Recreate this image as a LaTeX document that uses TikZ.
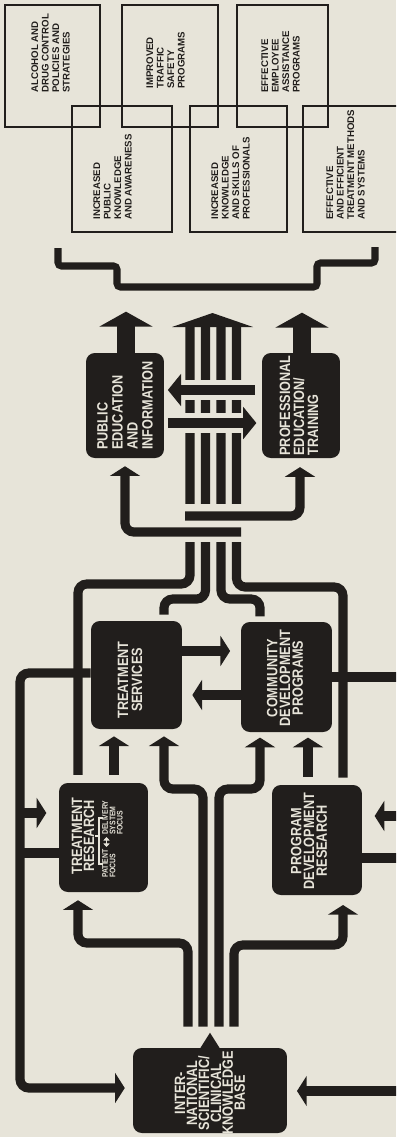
\documentclass[tikz,border=0pt]{standalone}
\usepackage{fontspec}
\setmainfont{Liberation Sans}
\newfontfamily\darkfont[FakeStretch=0.85]{Liberation Sans}
\usetikzlibrary{arrows.meta}
\definecolor{paper}{RGB}{231,228,217}
\definecolor{ink}{RGB}{33,30,28}

\begin{document}
\begin{tikzpicture}[x=0.02cm,y=-0.02cm,
  outbox/.style={draw=ink,line width=0.9pt,inner sep=0pt},
  otext/.style={rotate=90,anchor=north west,align=left,inner sep=0pt,text=ink,font=\bfseries\fontsize{5.5}{6}\selectfont},
  dark/.style={fill=ink,rounded corners=5pt,inner sep=0pt},
  dtext/.style={rotate=90,text=paper,align=center,inner sep=0pt,font=\darkfont\bfseries\fontsize{8.5}{#1}\selectfont},
  dtext/.default=7.2,
  dsmall/.style={rotate=90,anchor=north west,text=paper,align=left,inner sep=0pt,font=\darkfont\bfseries\fontsize{4.6}{4.2}\selectfont},
  fork/.style={draw=paper,line width=0.8pt},
  flow/.style={draw=ink,line width=5.2pt,rounded corners=5pt},
  flowtip/.style={-{Triangle[width=17pt,length=5.5pt]}},
  harr/.style={draw=ink,line width=5.5pt,-{Triangle[width=18pt,length=7.5pt]}},
  bigarr/.style={draw=ink,line width=10.5pt,-{Triangle[width=30pt,length=8.5pt]}}]
  \useasboundingbox (0,0) rectangle (396,1137);
  \fill[paper] (0,0) rectangle (396,1137);
  \clip (0,0) rectangle (396,1137);

  % outcomes
  \node[outbox,minimum width=1.90cm,minimum height=2.44cm] (policy) at (52.5,66) {};
  \node[otext] at (31,93) {ALCOHOL AND\\DRUG CONTROL\\POLICIES AND\\STRATEGIES};
  \node[outbox,minimum width=1.92cm,minimum height=2.44cm] (traffic) at (170,66) {};
  \node[otext] at (146,89) {IMPROVED\\TRAFFIC\\SAFETY\\PROGRAMS};
  \node[outbox,minimum width=1.82cm,minimum height=2.44cm] (employee) at (282.5,66) {};
  \node[otext] at (261,93) {EFFECTIVE\\EMPLOYEE\\ASSISTANCE\\PROGRAMS};
  \node[outbox,minimum width=2.00cm,minimum height=2.52cm] (public) at (122,169) {};
  \node[otext] at (93,220) {INCREASED\\PUBLIC\\KNOWLEDGE\\AND AWARENESS};
  \node[outbox,minimum width=1.94cm,minimum height=2.52cm] (skills) at (238.5,169) {};
  \node[otext] at (211,220) {INCREASED\\KNOWLEDGE\\AND SKILLS OF\\PROFESSIONALS};
  \node[outbox,minimum width=1.94cm,minimum height=2.52cm] (methods) at (351.5,169) {};
  \node[otext] at (326,220) {EFFECTIVE\\AND EFFICIENT\\TREATMENT METHODS\\AND SYSTEMS};
  \draw[ink,line width=4pt,rounded corners=2pt] (58,248) |- (117,266) |- (317,287) |- (375,263) -- (375,247);

  % education
  \node[dark,minimum width=1.56cm,minimum height=2.10cm] (pei) at (125,405.5) {};
  \node[dtext=8.5,align=left] at (pei.center) {PUBLIC\\EDUCATION\\AND\\INFORMATION};
  \node[dark,minimum width=1.56cm,minimum height=2.10cm] (pet) at (301,405.5) {};
  \node[dtext=8,align=left] at (299,405.5) {PROFESSIONAL\\EDUCATION/\\TRAINING};

  % services and research
  \node[dark,minimum width=1.82cm,minimum height=2.16cm] (ts) at (136.5,675) {};
  \node[dtext=8] at (130,680) {TREATMENT\\SERVICES};
  \node[dark,minimum width=1.82cm,minimum height=2.20cm] (cdp) at (286.5,677) {};
  \node[dtext] at (285,678) {COMMUNITY\\DEVELOPMENT\\PROGRAMS};
  \node[dark,minimum width=1.78cm,minimum height=2.18cm] (tr) at (103.5,837.5) {};
  \node[dtext=6.8] (trtitle) at (83,836) {TREATMENT\\RESEARCH};
  \node[dsmall] (patient) at (102,878) {PATIENT\\FOCUS};
  \node[dsmall] (delivery) at (102,835) {DELIVERY\\SYSTEM\\FOCUS};
  \draw[fork] (95,836) -- (99,836) (103,864) -- (99,864) -- (99,818) -- (103,818);
  \draw[fork,{Triangle[width=3.5pt,length=2pt]}-{Triangle[width=3.5pt,length=2pt]}] (106.5,847) -- (106.5,837);
  \node[dark,minimum width=1.80cm,minimum height=2.20cm] (pdr) at (317,840) {};
  \node[dtext] at (309,841) {PROGRAM\\DEVELOPMENT\\RESEARCH};

  % knowledge base
  \node[dark,minimum width=3.08cm,minimum height=1.70cm] (kb) at (210,1090.5) {};
  \fill[ink] ([xshift=-6pt,yshift=-1pt]kb.north) -- ([yshift=8.5pt]kb.north) -- ([xshift=6pt,yshift=-1pt]kb.north) -- cycle;
  \node[dtext=6.8] at (210,1093) {INTER-\\NATIONAL\\SCIENTIFIC/\\CLINICAL\\KNOWLEDGE\\BASE};

  % flows out of the knowledge base
  \draw[flow,flowtip,shorten <=12pt,shorten >=4.5pt] (kb.north -| 188,0) |- (78,943) -- (tr.south -| 78,0);
  \draw[flow,flowtip,shorten <=12pt,shorten >=4pt] (kb.north -| 203,0) |- (164,789) -- (ts.south -| 164,0);
  \draw[flow,flowtip,shorten <=12pt,shorten >=3pt] (kb.north -| 219,0) |- (260,789) -- (cdp.south -| 260,0);
  \draw[flow,flowtip,shorten <=12pt,shorten >=5.5pt] (kb.north -| 234,0) |- (343,945) -- (pdr.south -| 343,0);
  \draw[flow,flowtip,shorten <=4.5pt,shorten >=4pt] (tr.north -| 114,0) -- (ts.south -| 114,0);
  \draw[flow,flowtip,shorten <=4.5pt,shorten >=3pt] (pdr.north -| 308,0) -- (cdp.south -| 308,0);
  \draw[flow,flowtip,shorten >=6pt] (ts.east |- 0,651) -- (cdp.west |- 0,651);
  \draw[flow,flowtip,shorten >=5.7pt] (cdp.west |- 0,695) -- (ts.east |- 0,695);

  % feedback rails
  \coordinate (railL) at (20,0);
  \coordinate (railR) at (401,0);
  \draw[flow,flowtip,shorten >=4.5pt] (ts.west |- 0,673) -| (railL |- 0,1088) -- (kb.west |- 0,1088);
  \draw[flow,flowtip,shorten >=7pt] (railL |- 0,813) -- (tr.west |- 0,813);
  \draw[flow] (tr.west |- 0,853) -- (railL |- 0,853);
  \draw[flow] (cdp.east |- 0,677) -- (railR |- 0,677);
  \draw[flow,flowtip,shorten >=7pt] (railR |- 0,816) -- (pdr.east |- 0,816);
  \draw[flow] (pdr.east |- 0,858) -- (railR |- 0,858);
  \draw[flow,flowtip,shorten >=5.5pt] (railR |- 0,1091) -- (kb.east |- 0,1091);

  % four streams up to education
  \draw[flow,shorten <=4.5pt] (tr.north -| 78,0) |- (190,584) -- (190,326);
  \draw[flow,shorten <=3.5pt] (ts.north -| 164,0) |- (205.5,599) -- (205.5,326);
  \draw[flow,shorten <=3pt] (cdp.north -| 260,0) |- (221,599) -- (221,326);
  \draw[flow,shorten <=4pt] (pdr.north -| 343,0) |- (236.5,587) -- (236.5,326);
  \fill[ink] (172,327) -- (212.5,313) -- (253,327) -- cycle;
  \fill[paper] (183,504) rectangle (244,542);
  \fill[paper] (183,380) rectangle (244,400);
  \fill[paper] (183,413) rectangle (244,433);
  \coordinate (hubA) at (185,516);
  \coordinate (hubB) at (241,532);
  \draw[flow,flowtip,shorten >=5pt] (hubA) -| (pet.south -| 300,0);
  \draw[flow,flowtip,shorten >=4.5pt] (hubB) -| (pei.south -| 125,0);
  \draw[harr,shorten <=4pt,shorten >=2pt] (pet.west |- 0,390) -- (pei.east |- 0,390);
  \draw[harr,shorten <=2pt,shorten >=3pt] (pei.east |- 0,423) -- (pet.west |- 0,423);
  \draw[bigarr] (pei.north -| 126,0) -- ++(0,-41);
  \draw[bigarr] (pet.north -| 302,0) -- ++(0,-40);
\end{tikzpicture}
\end{document}
